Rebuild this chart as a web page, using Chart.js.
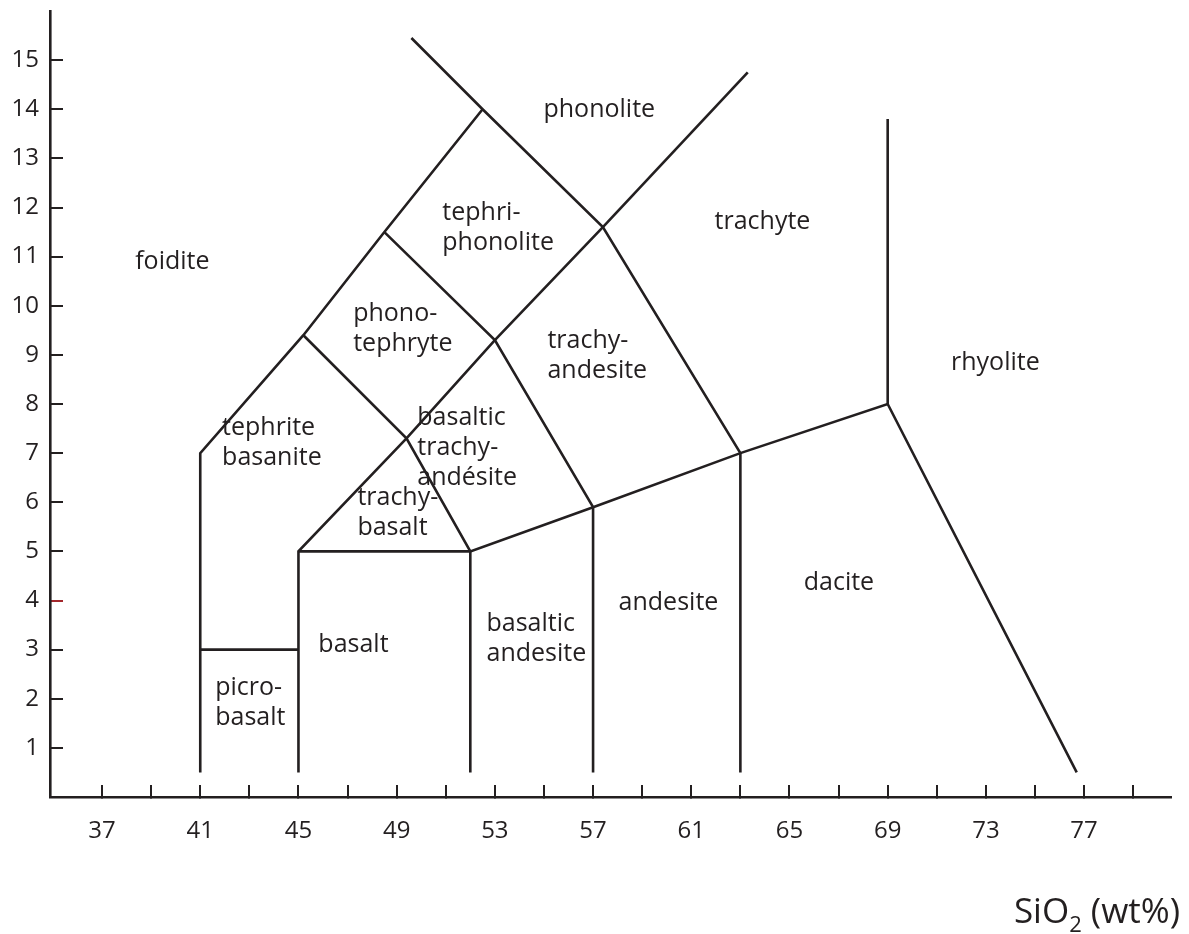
<!DOCTYPE html>
<html>
<head>
<meta charset="utf-8">
<title>Diagrama TAS</title>
<script src="https://cdn.jsdelivr.net/npm/chart.js@4.4.1/dist/chart.umd.min.js"></script>
<style>
    html, body { margin: 0; padding: 0; background: #fff; }
    #caixa { width: 1189px; height: 934px; position: relative; }
</style>
</head>
<body>
<div id="caixa"><canvas id="grafico"></canvas></div>
<script>
// Linhas de fronteira do diagrama TAS (SiO2 x álcalis)
const linhaPhonolite = [[49.6, 15.45], [52.5, 14], [57.4, 11.6], [63, 7], [63, 0.5]];
const linhaTrachyte = [[57.4, 11.6], [63.3, 14.75]];
const linhaEsquerda = [[41, 0.5], [41, 7], [45.2, 9.4], [48.5, 11.5], [52.5, 14]];
const linhaTephrite = [[45.2, 9.4], [49.4, 7.3], [52, 5], [52, 0.5]];
const linhaPhonoTephryte = [[48.5, 11.5], [53, 9.3], [57, 5.9], [57, 0.5]];
const linhaTrachyBasalt = [[45, 0.5], [45, 5], [49.4, 7.3], [53, 9.3], [57.4, 11.6]];
const linhaBasalt = [[45, 5], [52, 5], [57, 5.9], [63, 7], [69, 8], [76.7, 0.5]];
const linhaRhyolite = [[69, 8], [69, 13.8]];
const linhaPicro = [[41, 3], [45, 3]];

const linhas = [linhaPhonolite, linhaTrachyte, linhaEsquerda, linhaTephrite, linhaPhonoTephryte,
    linhaTrachyBasalt, linhaBasalt, linhaRhyolite, linhaPicro];

// Eixos
const ticksX = [37, 39, 41, 43, 45, 47, 49, 51, 53, 55, 57, 59, 61, 63, 65, 67, 69, 71, 73, 75, 77, 79];
const rotulosX = [37, 41, 45, 49, 53, 57, 61, 65, 69, 73, 77];
const ticksY = [1, 2, 3, 4, 5, 6, 7, 8, 9, 10, 11, 12, 13, 14, 15];

// Nomes das rochas (x = borda esquerda do texto, y = primeira linha)
const nomes = ['foidite', 'phonolite', 'tephri-\nphonolite', 'trachyte', 'phono-\ntephryte', 'trachy-\nandesite',
    'rhyolite', 'basaltic\ntrachy-\nandésite', 'tephrite\nbasanite', 'trachy-\nbasalt', 'basalt',
    'basaltic\nandesite', 'andesite', 'dacite', 'picro-\nbasalt'];
const nomesX = [38.35, 54.98, 50.86, 61.95, 47.23, 55.14, 71.58, 49.84, 41.89, 47.4, 45.81, 52.66, 58.04, 65.58, 41.61];
const nomesY = [10.9, 13.99, 11.89, 11.71, 9.84, 9.29, 8.84, 7.72, 7.52, 6.08, 3.10, 3.52, 3.95, 4.36, 2.22];

const cor = '#231f20';
const fonte = '"Open Sans", "Noto Sans", sans-serif';

const pluginNomes = {
    id: 'nomes',
    afterDatasetsDraw(chart) {
        const ctx = chart.ctx;
        const x = chart.scales.x;
        const y = chart.scales.y;
        ctx.save();
        ctx.fillStyle = cor;
        ctx.font = '25px ' + fonte;
        ctx.textAlign = 'left';
        ctx.textBaseline = 'middle';
        nomes.forEach((nome, i) => {
            const px = x.getPixelForValue(nomesX[i]);
            const py = y.getPixelForValue(nomesY[i]);
            nome.split('\n').forEach((parte, j) => {
                ctx.fillText(parte, px, py + j * 30);
            });
        });
        ctx.restore();
    },
    afterDraw(chart) {
        // titulo do eixo x com subscrito
        const ctx = chart.ctx;
        ctx.save();
        ctx.fillStyle = cor;
        ctx.textBaseline = 'alphabetic';
        ctx.textAlign = 'left';
        const grande = '35px ' + fonte;
        const pequeno = '22px ' + fonte;
        ctx.font = grande;
        const w1 = ctx.measureText('SiO').width;
        const w3 = ctx.measureText(' (wt%)').width;
        ctx.font = pequeno;
        const w2 = ctx.measureText('2').width;
        const fim = chart.width - 9;
        const base = 923;
        let px = fim - (w1 + w2 + w3);
        ctx.font = grande;
        ctx.fillText('SiO', px, base);
        px += w1;
        ctx.font = pequeno;
        ctx.fillText('2', px, base + 9);
        px += w2;
        ctx.font = grande;
        ctx.fillText(' (wt%)', px, base);
        ctx.restore();
    }
};

const ctx = document.getElementById('grafico').getContext('2d');
const grafico = new Chart(ctx, {
    type: 'scatter',
    data: {
        datasets: linhas.map(l => ({
            data: l.map(p => ({ x: p[0], y: p[1] })),
            showLine: true,
            borderColor: cor,
            borderWidth: 2.6,
            pointRadius: 0,
            fill: false,
            tension: 0
        }))
    },
    options: {
        responsive: true,
        maintainAspectRatio: false,
        animation: false,
        layout: { padding: { top: 11, right: 18, left: 0, bottom: 0 } },
        plugins: { legend: { display: false }, tooltip: { enabled: false } },
        scales: {
            x: {
                type: 'linear',
                min: 34.88,
                max: 80.54,
                afterBuildTicks: (escala) => { escala.ticks = ticksX.map(v => ({ value: v })); },
                afterFit: (escala) => {
                    escala.height = 137;
                    escala.paddingLeft = 0;
                    escala.paddingRight = 0;
                },
                border: { color: cor, width: 2.6 },
                grid: { drawOnChartArea: false, drawTicks: true, tickLength: -12, color: cor, lineWidth: 2 },
                ticks: {
                    autoSkip: false,
                    maxRotation: 0,
                    padding: 32,
                    color: cor,
                    font: { family: fonte, size: 24 },
                    callback: (valor) => rotulosX.includes(valor) ? String(valor) : ''
                }
            },
            y: {
                type: 'linear',
                min: 0,
                max: 16,
                afterBuildTicks: (escala) => { escala.ticks = ticksY.map(v => ({ value: v })); },
                afterFit: (escala) => {
                    escala.width = 50;
                    escala.paddingTop = 0;
                    escala.paddingBottom = 0;
                },
                border: { color: cor, width: 2.6 },
                grid: {
                    drawOnChartArea: false, drawTicks: true, tickLength: -13, lineWidth: 2,
                    color: (c) => c.tick && c.tick.value === 4 ? '#a3272c' : cor
                },
                ticks: {
                    padding: 24,
                    color: cor,
                    font: { family: fonte, size: 24 },
                    callback: (valor) => String(valor)
                }
            }
        }
    },
    plugins: [pluginNomes]
});
</script>
</body>
</html>
